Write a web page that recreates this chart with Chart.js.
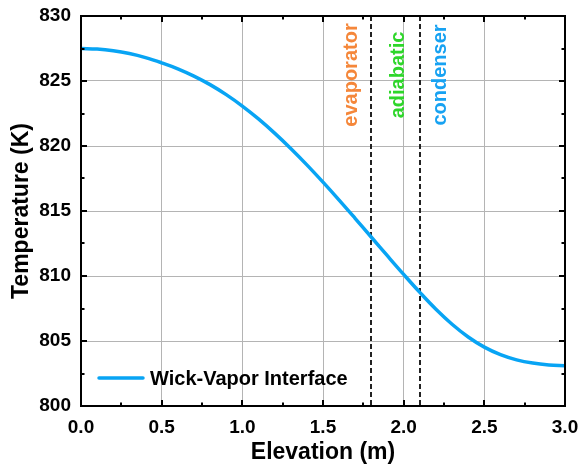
<!DOCTYPE html>
<html>
<head>
<meta charset="utf-8">
<script src="https://cdn.jsdelivr.net/npm/chart.js@4/dist/chart.umd.min.js"></script>
<style>
  html, body { margin: 0; padding: 0; background: #fff; }
  #wrap { width: 580px; height: 466px; }
</style>
</head>
<body>
<div id="wrap"><canvas id="chart" width="580" height="466"></canvas></div>
<script>
// Temperature along the wick-vapor interface versus elevation
const elevation = [0.0, 0.1, 0.2, 0.3, 0.4, 0.5, 0.6, 0.7, 0.8, 0.9,
                   1.0, 1.1, 1.2, 1.3, 1.4, 1.5, 1.6, 1.7, 1.8, 1.9,
                   2.0, 2.1, 2.2, 2.3, 2.4, 2.5, 2.6, 2.7, 2.8, 2.9, 3.0];
const temperature = [827.50, 827.46, 827.33, 827.11, 826.80, 826.40, 825.94, 825.38, 824.72, 823.95,
                     823.07, 822.08, 820.99, 819.81, 818.55, 817.22, 815.84, 814.42, 812.98, 811.54,
                     810.12, 808.74, 807.44, 806.29, 805.31, 804.53, 803.95, 803.55, 803.30, 803.16, 803.10];
const seriesName = 'Wick-Vapor Interface';

const xTickValues = [0.0, 0.5, 1.0, 1.5, 2.0, 2.5, 3.0];
const yTickValues = [800, 805, 810, 815, 820, 825, 830];

// Section boundaries (m) and section names
const sectionBounds = [1.8, 2.1];
const sectionNames = ['evaporator', 'adiabatic', 'condenser'];

// Drawing settings for the section names (anchor elevation of each rotated label)
const sectionStyle = {
  anchors: [1.71, 2.0, 2.265],
  colors: ['#F5873A', '#2ED62A', '#17A2F2'],
  centerY: 75,
  font: 'bold 20px "Liberation Sans", Arial, sans-serif'
};

const lineColor = '#08A4F4';
const bold = (size) => ({ family: '"Liberation Sans", Arial, sans-serif', size: size, weight: 'bold' });

const framePlugin = {
  id: 'framePlugin',
  beforeDatasetsDraw(chart) {
    const { ctx, chartArea: a, scales: { x } } = chart;
    ctx.save();
    ctx.strokeStyle = '#222';
    ctx.lineWidth = 2;
    ctx.setLineDash([5, 3]);
    sectionBounds.forEach(v => {
      const px = Math.round(x.getPixelForValue(v));
      ctx.beginPath();
      ctx.moveTo(px, a.top);
      ctx.lineTo(px, a.bottom);
      ctx.stroke();
    });
    ctx.restore();
  },
  afterDatasetsDraw(chart) {
    const { ctx, chartArea: a, scales: { x, y } } = chart;
    ctx.save();
    ctx.strokeStyle = '#000';
    ctx.lineWidth = 2;
    ctx.setLineDash([]);
    // inward ticks on all four sides
    const major = 6, minor = 3.5;
    const xs = [];
    for (let i = 0; i < xTickValues.length; i++) {
      xs.push([xTickValues[i], major]);
      if (i < xTickValues.length - 1) xs.push([(xTickValues[i] + xTickValues[i + 1]) / 2, minor]);
    }
    xs.forEach(([v, len]) => {
      const px = Math.round(x.getPixelForValue(v));
      ctx.beginPath();
      ctx.moveTo(px, a.bottom); ctx.lineTo(px, a.bottom - len);
      ctx.moveTo(px, a.top); ctx.lineTo(px, a.top + len);
      ctx.stroke();
    });
    const ys = [];
    for (let i = 0; i < yTickValues.length; i++) {
      ys.push([yTickValues[i], major]);
      if (i < yTickValues.length - 1) ys.push([(yTickValues[i] + yTickValues[i + 1]) / 2, minor]);
    }
    ys.forEach(([v, len]) => {
      const py = Math.round(y.getPixelForValue(v));
      ctx.beginPath();
      ctx.moveTo(a.left, py); ctx.lineTo(a.left + len, py);
      ctx.moveTo(a.right, py); ctx.lineTo(a.right - len, py);
      ctx.stroke();
    });
    ctx.strokeRect(a.left, a.top, a.right - a.left, a.bottom - a.top);
    ctx.restore();
  },
  afterDraw(chart) {
    const { ctx, chartArea: a, scales: { x } } = chart;
    ctx.save();
    // rotated section names
    ctx.font = sectionStyle.font;
    ctx.textAlign = 'center';
    ctx.textBaseline = 'alphabetic';
    sectionNames.forEach((name, i) => {
      const px = x.getPixelForValue(sectionStyle.anchors[i]);
      ctx.save();
      ctx.translate(px, sectionStyle.centerY);
      ctx.rotate(-Math.PI / 2);
      ctx.fillStyle = sectionStyle.colors[i];
      ctx.fillText(name, 0, 0);
      ctx.restore();
    });
    // legend inside the plot, lower left
    const ly = a.bottom - 28;
    ctx.strokeStyle = lineColor;
    ctx.lineWidth = 3.5;
    ctx.lineCap = 'round';
    ctx.beginPath();
    ctx.moveTo(a.left + 18, ly);
    ctx.lineTo(a.left + 62, ly);
    ctx.stroke();
    ctx.fillStyle = '#000';
    ctx.font = 'bold 20px "Liberation Sans", Arial, sans-serif';
    ctx.textAlign = 'left';
    ctx.textBaseline = 'middle';
    ctx.fillText(chart.data.datasets[0].label, a.left + 69, ly + 1);
    ctx.restore();
  }
};

new Chart(document.getElementById('chart'), {
  type: 'line',
  data: {
    datasets: [{
      label: seriesName,
      data: elevation.map((e, i) => ({ x: e, y: temperature[i] })),
      borderColor: lineColor,
      borderWidth: 3.5,
      pointRadius: 0,
      fill: false,
      tension: 0.4
    }]
  },
  options: {
    responsive: false,
    animation: false,
    devicePixelRatio: 1,
    layout: { padding: { left: 0, right: 15, top: 16, bottom: 0 } },
    plugins: { legend: { display: false }, tooltip: { enabled: false } },
    scales: {
      x: {
        type: 'linear',
        min: 0, max: 3,
        afterBuildTicks: s => { s.ticks = xTickValues.map(v => ({ value: v })); },
        afterFit: s => { s.height = 60; s.paddingLeft = 0; s.paddingRight = 0; },
        ticks: {
          callback: v => Number(v).toFixed(1),
          font: bold(19), color: '#000', padding: 10, maxRotation: 0
        },
        grid: { color: '#b4b4b4', lineWidth: 1, drawTicks: false },
        border: { display: false },
        title: { display: true, text: 'Elevation (m)', font: bold(23), color: '#000', padding: { top: 0, bottom: 0 } }
      },
      y: {
        type: 'linear',
        min: 800, max: 830,
        afterBuildTicks: s => { s.ticks = yTickValues.map(v => ({ value: v })); },
        afterFit: s => { s.width = 81; s.paddingTop = 0; s.paddingBottom = 0; },
        ticks: {
          callback: v => String(v),
          font: bold(19), color: '#000', padding: 10
        },
        grid: { color: '#b4b4b4', lineWidth: 1, drawTicks: false },
        border: { display: false },
        title: { display: true, text: 'Temperature (K)', font: bold(23), color: '#000', padding: { top: 8, bottom: 0 } }
      }
    }
  },
  plugins: [framePlugin]
});
</script>
</body>
</html>
